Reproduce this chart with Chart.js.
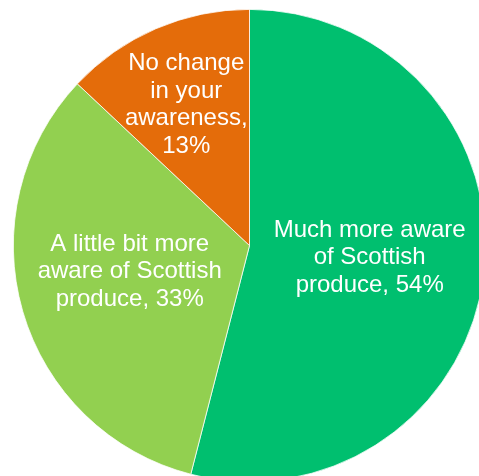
<!DOCTYPE html>
<html>
<head>
  <title>Awareness of Scottish produce</title>
  <meta charset="UTF-8">
  <script src="https://cdn.jsdelivr.net/npm/chart.js"></script>
  <style>
    html, body {
      margin: 0;
      padding: 0;
      background-color: #fff;
    }
    #wrap {
      width: 479px;
      height: 476px;
      overflow: hidden;
      position: relative;
    }
    #pie {
      position: absolute;
      left: 0;
      top: 0;
    }
  </style>
</head>
<body>

  <div id="wrap">
    <canvas id="pie" width="500" height="500"></canvas>
  </div>

  <script>
    // answers, going clockwise from 12 o'clock
    const categories = [
      ['Much more aware', 'of Scottish', 'produce'],
      ['A little bit more', 'aware of Scottish', 'produce'],
      ['No change', 'in your', 'awareness']
    ];
    const percents = [54, 33, 13];
    const sliceColours = ['#00BF6F', '#92D050', '#E46C0A'];

    // where each label sits: fraction of radius along the mid-angle, then a nudge
    const labelSpots = [
      { r: 0.513, dx: 0, dy: -3 },
      { r: 0.515, dx: -3, dy: -8 },
      { r: 0.653, dx: -2, dy: 1 }
    ];

    const sliceLabels = {
      id: 'sliceLabels',
      afterDatasetsDraw(chart) {
        const ctx = chart.ctx;
        const arcs = chart.getDatasetMeta(0).data;
        ctx.save();
        ctx.fillStyle = '#fff';
        ctx.font = '24px "Liberation Sans", Arial, sans-serif';
        ctx.textAlign = 'center';
        ctx.textBaseline = 'middle';
        const lineH = 27.5;
        arcs.forEach((arc, i) => {
          const p = arc.getProps(['x', 'y', 'startAngle', 'endAngle', 'outerRadius'], true);
          const mid = (p.startAngle + p.endAngle) / 2;
          const spot = labelSpots[i];
          const cx = p.x + Math.cos(mid) * p.outerRadius * spot.r + spot.dx;
          const cy = p.y + Math.sin(mid) * p.outerRadius * spot.r + spot.dy;

          // last word gets the percentage after a comma
          const lines = categories[i].slice();
          const pct = percents[i] + '%';
          if (i === 2) {
            lines[lines.length - 1] += ',';
            lines.push(pct);
          } else {
            lines[lines.length - 1] += ', ' + pct;
          }
          lines.forEach((txt, k) => {
            const y = cy + (k - (lines.length - 1) / 2) * lineH;
            ctx.fillText(txt, cx, y);
          });
        });
        ctx.restore();
      }
    };

    const ctx = document.getElementById('pie').getContext('2d');
    const chart = new Chart(ctx, {
      type: 'pie',
      data: {
        labels: categories.map(c => c.join(' ')),
        datasets: [{
          data: percents,
          backgroundColor: sliceColours,
          borderColor: '#fff',
          borderWidth: 0.75
        }]
      },
      options: {
        responsive: false,
        animation: false,
        layout: {
          padding: { left: 13, top: 9, right: 14, bottom: 18 }
        },
        plugins: {
          legend: { display: false },
          tooltip: { enabled: false }
        }
      },
      plugins: [sliceLabels]
    });
  </script>

</body>
</html>
